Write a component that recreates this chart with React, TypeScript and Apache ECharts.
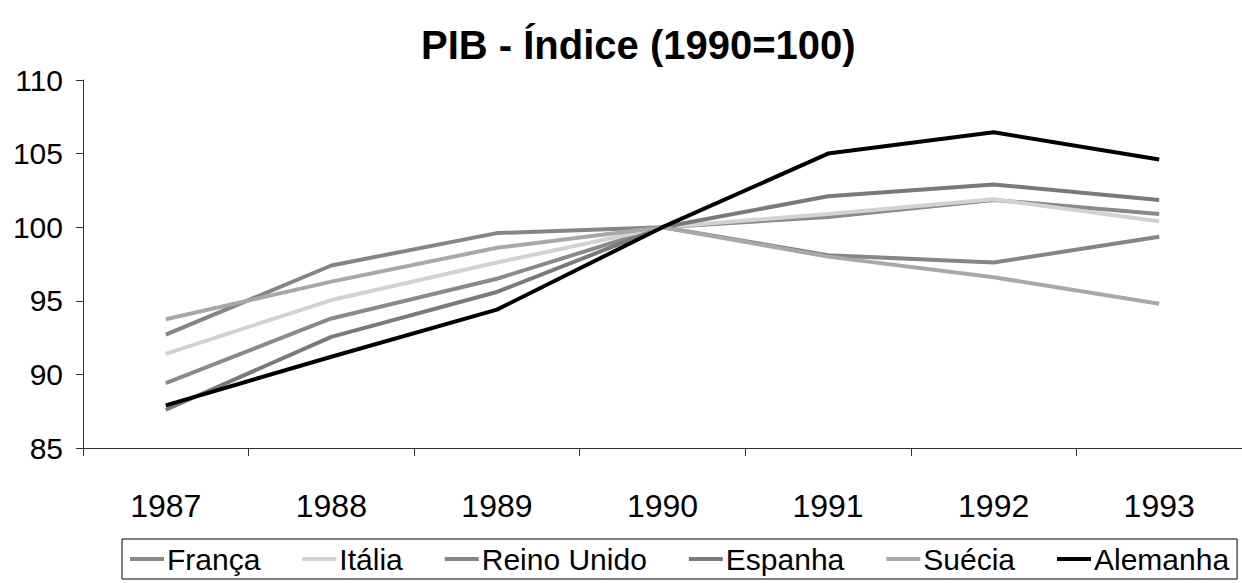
import React, { useEffect, useRef } from "react";
import * as echarts from "echarts";

const years = ["1987", "1988", "1989", "1990", "1991", "1992", "1993"];
const franca = [89.4, 93.8, 96.5, 100, 100.7, 101.85, 100.9];
const italia = [91.4, 95.05, 97.6, 100, 100.9, 101.9, 100.4];
const reinoUnido = [92.7, 97.4, 99.6, 100, 98.1, 97.6, 99.35];
const espanha = [87.6, 92.55, 95.6, 100, 102.1, 102.9, 101.85];
const suecia = [93.75, 96.3, 98.6, 100, 98.0, 96.6, 94.8];
const alemanha = [87.9, 91.2, 94.4, 100, 105.0, 106.45, 104.6];

const seriesDefs = [
  { name: "França", data: franca, color: "#8a8a8a", width: 4 },
  { name: "Itália", data: italia, color: "#d2d2d2", width: 4 },
  { name: "Reino Unido", data: reinoUnido, color: "#858585", width: 4 },
  { name: "Espanha", data: espanha, color: "#7a7a7a", width: 4 },
  { name: "Suécia", data: suecia, color: "#a8a8a8", width: 4 },
  { name: "Alemanha", data: alemanha, color: "#000000", width: 4 },
];

const FONT = "'Liberation Sans', Arial, sans-serif";

export default function App() {
  const ref = useRef<HTMLDivElement>(null);
  useEffect(() => {
    if (!ref.current) return;
    const chart = echarts.init(ref.current, undefined, { renderer: "svg" });
    chart.setOption({
      animation: false,
      backgroundColor: "#ffffff",
      title: {
        text: "PIB - Índice (1990=100)",
        left: 416,
        top: 20,
        textStyle: { fontFamily: FONT, fontSize: 40, fontWeight: "bold", color: "#000" },
      },
      legend: {
        left: 122,
        top: 539,
        padding: [5, 8],
        itemGap: 42,
        itemWidth: 34,
        itemHeight: 4,
        icon: "rect",
        borderColor: "#000",
        borderWidth: 1,
        textStyle: { fontFamily: FONT, fontSize: 30, color: "#000", padding: [0, 0, 0, -2] },
        data: seriesDefs.map((s) => s.name),
      },
      grid: { left: 83, top: 80, width: 1171, height: 368 },
      xAxis: {
        type: "category",
        data: years,
        boundaryGap: true,
        axisLine: { lineStyle: { color: "#333", width: 1 } },
        axisTick: { show: true, length: 8, lineStyle: { color: "#333" } },
        axisLabel: { fontFamily: FONT, fontSize: 32, color: "#000", margin: 42 },
        splitLine: { show: false },
      },
      yAxis: {
        type: "value",
        min: 85,
        max: 110,
        interval: 5,
        axisLine: { show: true, lineStyle: { color: "#333", width: 1 } },
        axisTick: { show: true, length: 7, lineStyle: { color: "#333" } },
        axisLabel: { fontFamily: FONT, fontSize: 30, color: "#000", margin: 20 },
        splitLine: { show: false },
      },
      series: seriesDefs.map((s) => ({
        name: s.name,
        type: "line",
        data: s.data,
        symbol: "none",
        color: s.color,
        itemStyle: { color: s.color },
        lineStyle: { color: s.color, width: s.width },
      })),
    });
    return () => chart.dispose();
  }, []);
  return (
    <div
      ref={ref}
      style={{ position: "fixed", left: 0, top: 0, width: 1242, height: 583 }}
    />
  );
}
